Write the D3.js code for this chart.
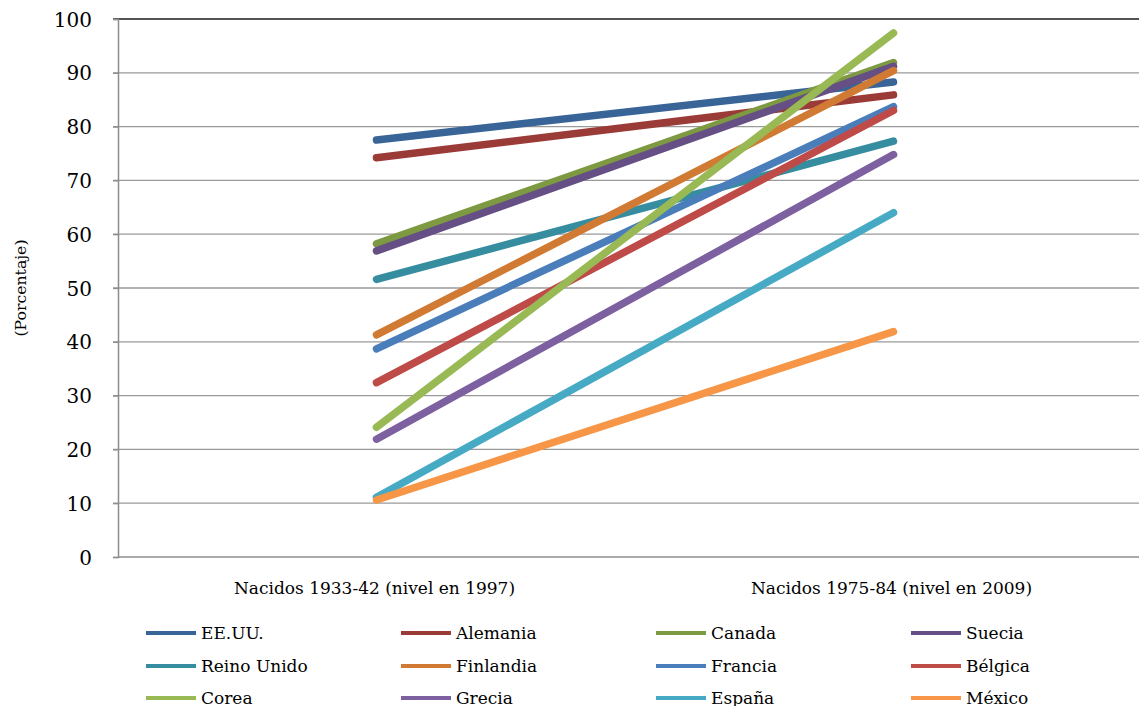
<!DOCTYPE html>
<html>
<head>
<meta charset="utf-8">
<script src="https://cdn.jsdelivr.net/npm/d3@7"></script>
<style>
  html, body { margin: 0; padding: 0; background: #fff; }
  svg { display: block; }
</style>
</head>
<body>
<svg id="chart" width="1139" height="706"></svg>
<script>
// Cohort categories on the x axis
const categories = ["Nacidos 1933-42 (nivel en 1997)", "Nacidos 1975-84 (nivel en 2009)"];

// Countries, in series order
const countries = ["EE.UU.", "Alemania", "Canada", "Suecia", "Reino Unido", "Finlandia",
                   "Francia", "Bélgica", "Corea", "Grecia", "España", "México"];

// Percentage for the older cohort (first category)
const olderCohort = [77.5, 74.2, 58.2, 56.9, 51.6, 41.3, 38.7, 32.4, 24.1, 21.9, 11.1, 10.6];
// Percentage for the younger cohort (second category)
const youngerCohort = [88.3, 85.9, 91.9, 91.2, 77.3, 90.4, 83.7, 83.0, 97.4, 74.8, 64.0, 41.9];

const yTicks = [0, 10, 20, 30, 40, 50, 60, 70, 80, 90, 100];

const colors = ["#386497", "#9a3b38", "#7d9a42", "#654f84", "#378da0", "#d07a33",
                "#4a7ebb", "#be4b48", "#98b954", "#7d60a0", "#46aac5", "#f79646"];

const svg = d3.select("#chart");
const plotLeft = 118, plotRight = 1152, plotTop = 19, plotBottom = 557;

const x = d3.scalePoint().domain(categories).range([plotLeft, plotRight]).padding(0.5);
const y = d3.scaleLinear().domain([0, 100]).range([plotBottom, plotTop]);

const serif = "'DejaVu Serif', serif";

// Horizontal gridlines
svg.append("g").selectAll("line")
  .data(yTicks.filter(t => t > 0 && t < 100))
  .join("line")
  .attr("x1", plotLeft - 5).attr("x2", 1139)
  .attr("y1", d => y(d)).attr("y2", d => y(d))
  .attr("stroke", "#9a9a9a").attr("stroke-width", 1.3);

// Top border line
svg.append("line")
  .attr("x1", plotLeft - 5).attr("x2", 1139)
  .attr("y1", y(100)).attr("y2", y(100))
  .attr("stroke", "#1a1a1a").attr("stroke-width", 1.5);

// Y axis
const yAxis = d3.axisLeft(y).tickValues(yTicks).tickSize(5).tickPadding(21);
const gy = svg.append("g").attr("transform", `translate(${plotLeft},0)`).call(yAxis);
gy.select(".domain").attr("stroke", "#8c8c8c").attr("stroke-width", 1.5);
gy.selectAll(".tick line").attr("stroke", "#8c8c8c").attr("stroke-width", 1.3);
gy.selectAll(".tick text")
  .attr("font-family", serif).attr("font-size", 20).attr("fill", "#000")
  .attr("dy", "0.35em");

// X axis baseline
svg.append("line")
  .attr("x1", plotLeft).attr("x2", 1139)
  .attr("y1", plotBottom).attr("y2", plotBottom)
  .attr("stroke", "#8c8c8c").attr("stroke-width", 1.5);

// Category labels
svg.append("g").selectAll("text")
  .data(categories)
  .join("text")
  .attr("x", d => x(d) - 2)
  .attr("y", 594)
  .attr("text-anchor", "middle")
  .attr("font-family", serif).attr("font-size", 17).attr("fill", "#000")
  .text(d => d);

// Y axis title
svg.append("text")
  .attr("transform", `translate(26,288) rotate(-90)`)
  .attr("text-anchor", "middle")
  .attr("font-family", serif).attr("font-size", 14).attr("fill", "#000")
  .attr("textLength", 97).attr("lengthAdjust", "spacingAndGlyphs")
  .text("(Porcentaje)");

// Country lines
const series = countries.map((c, i) => ({
  name: c, color: colors[i],
  values: [{ cat: categories[0], v: olderCohort[i] }, { cat: categories[1], v: youngerCohort[i] }]
}));

const line = d3.line().x(d => x(d.cat)).y(d => y(d.v));

svg.append("g").selectAll("path")
  .data(series)
  .join("path")
  .attr("d", d => line(d.values))
  .attr("fill", "none")
  .attr("stroke", d => d.color)
  .attr("stroke-width", 7.5)
  .attr("stroke-linecap", "round");

// Legend: 4 columns x 3 rows
const legend = svg.append("g");
const colX = [146, 401, 656, 911];
const rowY = [633, 666, 698];
series.forEach((s, i) => {
  const cx = colX[i % 4], cy = rowY[Math.floor(i / 4)];
  const g = legend.append("g").attr("transform", `translate(${cx},${cy})`);
  g.append("line").attr("x1", 0).attr("x2", 50).attr("y1", 0).attr("y2", 0)
    .attr("stroke", s.color).attr("stroke-width", 4);
  g.append("text").attr("x", 55).attr("y", 0).attr("dy", "0.35em")
    .attr("font-family", serif).attr("font-size", 17).attr("fill", "#000")
    .text(s.name);
});
</script>
</body>
</html>
